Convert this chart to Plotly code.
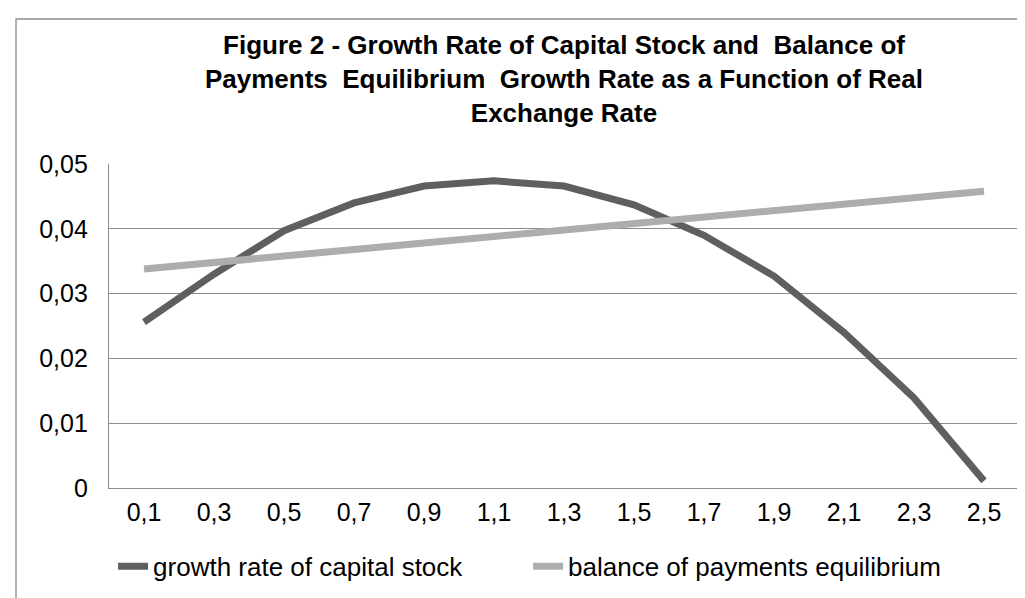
import plotly.graph_objects as go

categories = ["0,1", "0,3", "0,5", "0,7", "0,9", "1,1", "1,3", "1,5", "1,7", "1,9", "2,1", "2,3", "2,5"]
growth_capital = [0.0256, 0.0330, 0.0397, 0.0440, 0.0466, 0.0474, 0.0466, 0.0437, 0.0390, 0.0327, 0.0240, 0.0139, 0.0011]
bop_equilibrium = [0.0338, 0.0348, 0.0358, 0.0368, 0.0378, 0.0388, 0.0398, 0.0408, 0.0418, 0.0428, 0.0438, 0.0448, 0.0458]
y_ticks = [0, 0.01, 0.02, 0.03, 0.04, 0.05]

title_text = ("<b>Figure 2 - Growth Rate of Capital Stock and\u00a0 Balance of<br>"
              "Payments\u00a0 Equilibrium\u00a0 Growth Rate as a Function of Real<br>"
              "Exchange Rate</b>")

FONT = "Liberation Sans, Arial, sans-serif"

fig = go.Figure()
fig.add_trace(go.Scatter(x=categories, y=growth_capital, mode="lines",
                         name="growth rate of capital stock",
                         line=dict(color="#5f5f5f", width=7)))
fig.add_trace(go.Scatter(x=categories, y=bop_equilibrium, mode="lines",
                         name="balance of payments equilibrium",
                         line=dict(color="#adadad", width=7)))

fig.update_layout(
    width=1025, height=598,
    margin=dict(l=101, r=14, t=156, b=118),
    paper_bgcolor="white", plot_bgcolor="white",
    separators=",.",
    font=dict(family=FONT, size=25, color="black"),
    title=dict(text=title_text, x=0.5, xanchor="center", xref="paper",
               y=0.923, yanchor="middle",
               font=dict(family=FONT, size=26, color="black")),
    showlegend=True,
    legend=dict(orientation="h", x=0.4605, xanchor="center", y=-0.2415, yanchor="middle",
                font=dict(family=FONT, size=26, color="black"),
                bgcolor="rgba(0,0,0,0)", itemwidth=30, entrywidth=370,
                entrywidthmode="pixels", traceorder="normal"),
    xaxis=dict(type="category", range=[-0.5, 12.5], showgrid=False,
               showline=True, linecolor="#8c8c8c", linewidth=1.3,
               ticks="", ticklabelstandoff=2, tickfont=dict(size=25),
               zeroline=False, fixedrange=True),
    yaxis=dict(range=[0, 0.05], tickvals=y_ticks, showgrid=True,
               gridcolor="#8c8c8c", gridwidth=1.3,
               showline=True, linecolor="#8c8c8c", linewidth=1.3,
               ticks="", ticklabelstandoff=15, tickfont=dict(size=25),
               zeroline=False, fixedrange=True),
    shapes=[dict(type="rect", xref="paper", yref="paper",
                 x0=-0.1022, x1=1.03, y0=-0.40, y1=1.4475,
                 line=dict(color="#8c8c8c", width=1.3), fillcolor="rgba(0,0,0,0)",
                 layer="below")],
)

fig.write_html("out.html")
